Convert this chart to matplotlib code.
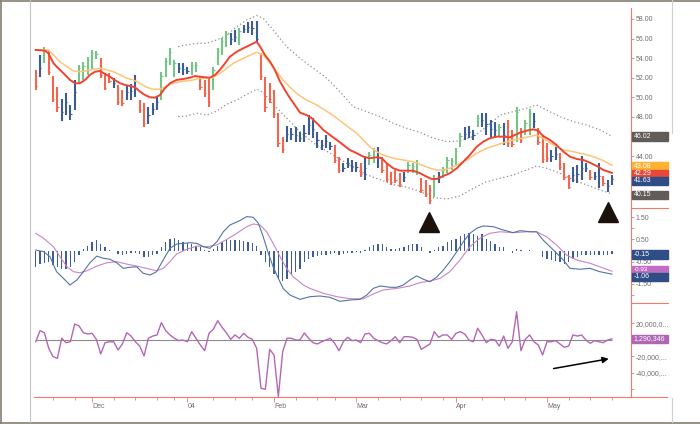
"""
Kurschart mit Gleitenden Durchschnitten, Bändern, MACD und Oszillator.
Werte wurden aus der Vorlage abgelesen (Handelstage Nov 2003 - Mai 2004).
"""

import matplotlib

matplotlib.use("Agg")
import matplotlib.pyplot as plt
from matplotlib.lines import Line2D
from matplotlib.patches import Rectangle

plt.rcParams["font.family"] = ["Liberation Sans", "DejaVu Sans"]

# --- Kursbalken (Index = Handelstag, 0 = 11.11.2003) ---
highs = [52.8, 54.3, 55.1, 54.8, 52.2, 51.1, 49.8, 50.4, 49.2, 51.8,
         53.3, 53.6, 54.1, 54.8, 54.7, 54.0, 52.5, 52.5, 52.0, 51.3,
         50.8, 51.3, 51.4, 52.3, 49.7, 49.4, 49.0, 49.4, 50.0, 52.6,
         54.0, 55.0, 53.8, 53.5, 53.5, 53.1, 53.6, 53.6, 52.1, 51.8,
         52.1, 53.1, 55.0, 56.1, 56.8, 56.6, 56.9, 57.1, 57.4, 57.7,
         57.8, 57.8, 54.5, 52.1, 51.5, 50.8, 48.4, 46.0, 47.1, 46.9,
         47.0, 46.5, 47.2, 48.2, 47.9, 46.5, 45.7, 46.2, 45.4, 45.1,
         43.9, 43.3, 43.8, 43.6, 43.4, 43.3, 43.9, 44.4, 44.8, 44.9,
         43.9, 43.3, 42.4, 42.6, 42.3, 42.4, 43.4, 43.3, 43.6, 41.8,
         41.6, 41.1, 42.1, 42.4, 42.9, 43.9, 43.8, 44.8, 46.4, 47.0,
         47.1, 46.7, 48.2, 48.4, 48.4, 47.7, 47.5, 47.3, 47.4, 47.7,
         46.7, 49.0, 46.9, 47.7, 48.8, 48.4, 46.9, 46.2, 45.3, 44.6,
         44.9, 44.3, 43.3, 42.1, 42.9, 43.1, 44.0, 43.3, 42.6, 42.4,
         43.3, 42.0, 41.6, 42.1]
lows = [50.75, 52.1, 53.5, 52.3, 49.5, 48.5, 47.6, 48.2, 47.7, 48.7,
        51.5, 51.8, 52.3, 52.8, 53.9, 52.0, 50.8, 51.5, 51.0, 49.2,
        49.1, 49.7, 49.7, 50.0, 48.4, 47.0, 47.3, 48.2, 48.7, 49.7,
        52.1, 53.3, 52.1, 52.5, 52.3, 52.4, 52.3, 52.6, 50.8, 50.0,
        49.0, 50.8, 53.3, 54.3, 55.1, 55.3, 55.6, 55.3, 56.6, 56.6,
        56.4, 55.7, 51.8, 48.5, 49.4, 47.9, 44.9, 44.3, 45.4, 45.6,
        45.4, 45.4, 45.4, 46.2, 45.9, 44.8, 44.6, 44.8, 44.6, 43.3,
        42.3, 42.4, 42.8, 42.4, 42.4, 41.9, 41.6, 43.1, 43.3, 42.8,
        42.3, 41.4, 41.1, 41.3, 40.9, 41.4, 42.3, 42.3, 42.1, 40.2,
        39.8, 39.1, 39.8, 41.3, 41.8, 42.3, 42.6, 43.1, 44.9, 45.7,
        45.9, 45.7, 47.0, 47.0, 46.2, 46.0, 45.9, 46.0, 45.1, 44.9,
        44.9, 45.4, 45.3, 46.2, 46.2, 46.9, 45.1, 43.3, 43.4, 43.4,
        43.6, 42.6, 41.6, 40.6, 41.4, 41.3, 41.6, 42.4, 41.6, 41.6,
        40.8, 41.0, 40.3, 41.1]
closes = [51.2, 53.0, 54.8, 52.6, 49.8, 49.0, 48.5, 49.5, 48.3, 50.5,
          53.0, 53.2, 53.8, 54.5, 54.4, 52.3, 51.0, 51.7, 51.5, 49.5,
          49.4, 50.5, 50.6, 51.0, 48.7, 47.4, 48.2, 48.8, 49.5, 52.2,
          53.7, 54.6, 53.5, 53.0, 52.9, 52.7, 53.3, 53.3, 51.1, 50.4,
          49.5, 52.8, 54.7, 55.8, 56.5, 56.0, 56.2, 56.8, 57.0, 57.2,
          57.1, 56.0, 52.2, 49.0, 49.8, 48.3, 45.3, 44.7, 46.3, 46.3,
          46.2, 45.9, 46.4, 47.2, 46.8, 45.6, 45.1, 45.5, 45.0, 43.6,
          42.6, 42.8, 43.3, 43.0, 42.9, 42.2, 42.8, 44.1, 44.5, 43.8,
          42.6, 41.7, 41.4, 41.6, 41.2, 41.9, 43.1, 43.0, 43.3, 40.5,
          40.1, 39.5, 41.8, 41.8, 42.6, 43.6, 43.5, 44.5, 46.1, 46.3,
          46.5, 46.2, 47.9, 47.7, 47.3, 46.8, 46.7, 47.0, 46.2, 45.3,
          45.2, 48.5, 45.6, 47.4, 48.4, 47.6, 45.4, 43.7, 43.8, 44.0,
          44.2, 42.9, 41.9, 40.9, 42.1, 42.2, 42.8, 42.8, 41.9, 42.0,
          42.0, 41.3, 41.0, 41.63]
# g = steigend, r = fallend, b = sonstige
bar_kind = ("rbgrrrbbbb" "gggggrrrbr" "rbbbrrbbbg" "gggbbbggrr" "rggggbbgbb"
            "bbrrrrrrbb" "bbbbbbbbbr" "rbbbbrbggb" "rrrrrbgggr" "rrgbgggggb"
            "bbgbbbbgbr" "rgrggbrrrb" "brrrbbbbrb" "brbb")

fast_idx = [0, 2.1, 2.9, 4.1, 5.2, 6.4, 7.9, 9.1, 10.2, 11.4, 12.5, 13.7, 14.8, 16, 17.1,
            18.2, 19.5, 20.6, 21.8, 22.9, 24.1, 25.2, 26.4, 27.5, 28.7, 29.8, 31, 32.5,
            34.1, 35.6, 36.8, 37.9, 39.1, 40.2, 41.4, 42.5, 43.7, 44.8, 46.4, 47.9, 49.5,
            51, 51.8, 52.9, 54.1, 55.2, 56.4, 57.5, 58.7, 59.8, 61, 62.5, 63.7, 64.9,
            66.4, 67.9, 69.5, 71, 72.5, 74.1, 75.6, 77.1, 78.7, 79.9, 81, 82.5, 84.1,
            85.6, 87.1, 88.7, 90.2, 91.4, 92.5, 93.7, 95.6, 97.2, 98.7, 100.2, 101.8,
            103.3, 104.8, 106.4, 107.9, 109.5, 110.6, 111.8, 113.3, 114.8, 116, 117.1,
            118.7, 120.2, 121.8, 123.3, 124.9, 126.4, 127.9, 129.5, 131, 132.6, 133]
fast_val = [54.84, 54.77, 54.5, 53.48, 52.97, 52.46, 51.78, 51.44, 51.44, 51.78, 52.29,
            52.62, 52.69, 52.39, 52.11, 51.78, 51.44, 51.27, 51.16, 51.03, 50.58, 50.24,
            50.01, 49.97, 50.24, 50.93, 51.44, 51.78, 51.88, 52.01, 52.18, 52.11, 52.05,
            52.01, 52.29, 52.8, 53.48, 54.15, 54.66, 55.01, 55.35, 55.68, 55.17, 54.33,
            53.64, 52.8, 51.6, 50.76, 49.91, 49.22, 48.44, 48.2, 47.87, 47.36, 46.67,
            46.16, 45.65, 45.14, 44.63, 44.3, 43.95, 43.79, 43.89, 43.79, 43.28, 42.77,
            42.52, 42.52, 42.52, 42.26, 41.91, 41.67, 41.67, 41.91, 42.26, 42.77, 43.44,
            44.12, 44.97, 45.48, 45.83, 45.99, 45.99, 45.93, 46.16, 46.4, 46.6, 46.74,
            46.6, 46.06, 45.65, 45.14, 44.46, 43.95, 43.71, 43.61, 43.34, 43.0, 42.59,
            42.36, 42.29]

slow_idx = [0, 2.9, 4.1, 5.6, 7.2, 8.7, 10.2, 11.8, 13.3, 14.8, 16.4, 17.9, 19.5, 21,
            22.5, 24.1, 25.6, 27.1, 28.7, 30.2, 31.8, 33.3, 34.8, 36.4, 37.9, 39.5, 41,
            42.5, 44.1, 45.6, 47.1, 48.7, 51, 52.5, 54.1, 55.6, 57.1, 58.7, 60.2, 61.8,
            63.3, 64.9, 66.4, 67.9, 69.5, 71, 72.5, 74.1, 75.6, 77.1, 78.7, 80.2, 82.5,
            84.8, 87.1, 89.1, 91, 92.5, 94.1, 95.6, 97.2, 99.5, 101.8, 104.1, 106.4,
            108.7, 111, 113.3, 115.6, 117.1, 119.5, 121.8, 124.1, 126.4, 128.7, 131, 133]
slow_val = [54.84, 54.84, 54.33, 53.64, 53.13, 52.69, 52.62, 52.72, 52.87, 52.97, 52.8,
            52.62, 52.29, 51.95, 51.78, 51.44, 51.03, 50.83, 50.83, 51.16, 51.44, 51.6,
            51.67, 51.78, 51.95, 51.95, 52.05, 52.46, 52.97, 53.48, 53.82, 54.15, 54.6,
            54.33, 53.48, 52.62, 51.78, 51.03, 50.42, 49.91, 49.56, 49.22, 48.79, 48.38,
            47.87, 47.36, 46.85, 46.34, 45.65, 44.97, 44.46, 44.12, 43.79, 43.61, 43.44,
            43.1, 42.77, 42.59, 42.59, 42.77, 43.1, 43.61, 44.3, 44.81, 45.14, 45.48,
            45.72, 45.93, 46.16, 45.83, 45.14, 44.63, 44.46, 44.22, 43.95, 43.54, 43.08]

band_idx = [32.9, 34.8, 37.2, 39.5, 41.8, 44.1, 46.4, 48.7, 51, 52.5, 54.8, 57.9, 61,
            64.1, 67.2, 70.2, 73.3, 76.4, 79.5, 82.5, 85.6, 88.7, 91.8, 94.9, 97.9, 101,
            104.1, 107.2, 110.2, 113.3, 115.6, 117.9, 121, 124.1, 127.2, 130.3, 133]
upper_val = [55.17, 55.35, 55.52, 55.52, 55.86, 56.37, 57.2, 57.9, 58.35, 58.07, 56.88,
             55.17, 53.99, 52.97, 51.95, 50.58, 49.05, 48.54, 48.03, 47.36, 46.85, 46.42,
             45.83, 45.48, 45.55, 46.01, 47.01, 48.2, 48.54, 48.89, 49.22, 48.71, 48.03,
             47.52, 47.18, 46.67, 46.02]
lower_val = [48.03, 48.1, 48.38, 48.2, 48.6, 49.3, 49.73, 50.3, 50.83, 50.5, 49.3, 47.9,
             46.5, 45.35, 44.5, 43.7, 42.85, 42.1, 41.6, 41.1, 40.85, 40.4, 39.75, 39.63,
             39.94, 40.72, 41.4, 41.74, 42.08, 42.59, 43.0, 42.77, 42.26, 41.57, 41.06,
             40.55, 40.15]

# --- MACD ---
macd_idx = [0, 1.8, 3.3, 4.8, 6.4, 7.9, 9.5, 11, 12.5, 14.1, 15.6, 17.1, 18.7, 20.2, 21.8,
            23.3, 24.8, 26.4, 27.9, 29.4, 31, 32.5, 34.1, 35.6, 37.2, 38.7, 40.2, 41.8,
            43.3, 44.8, 47.1, 48.7, 50.2, 51.4, 52.5, 53.7, 54.8, 56, 57.1, 58.7, 61,
            63.3, 65.6, 67.9, 70.2, 72.5, 74.8, 76.4, 77.9, 79.5, 81.8, 83.3, 84.8, 86.4,
            87.9, 89.5, 91, 92.5, 94.1, 95.6, 97.2, 98.7, 100.2, 101.8, 103.3, 105.6,
            107.9, 110.2, 111.8, 114.1, 115.6, 117.1, 119.5, 121.8, 123.3, 125.6, 127.9,
            130.2, 133]
macd_val = [0.02, -0.05, -0.28, -0.95, -1.25, -1.55, -1.32, -0.95, -0.55, -0.25, -0.35,
            -0.39, -0.55, -0.80, -0.75, -0.73, -1.02, -1.10, -0.95, -0.43, 0.10, 0.29,
            0.32, 0.35, 0.32, 0.17, 0.10, 0.39, 0.84, 1.14, 1.34, 1.52, 1.49, 1.22, 0.62,
            -0.13, -0.73, -1.25, -1.70, -2.00, -2.19, -2.07, -2.04, -2.10, -2.28, -2.22,
            -2.19, -2.00, -1.70, -1.59, -1.65, -1.65, -1.55, -1.32, -1.14, -1.29, -1.40,
            -1.20, -0.87, -0.50, -0.05, 0.39, 0.77, 1.00, 1.10, 1.07, 0.92, 0.80, 0.89,
            0.84, 0.84, 0.47, 0.02, -0.43, -0.80, -0.84, -0.80, -0.95, -1.06]
signal_idx = [0, 1.8, 4.1, 5.6, 7.2, 8.7, 10.2, 11.8, 14.1, 16.4, 18.7, 21, 23.3, 25.6,
              27.9, 29.4, 31, 32.5, 34.8, 37.2, 39.5, 41.8, 44.1, 46.4, 48.7, 50.2, 51.8,
              53.3, 54.8, 56.4, 57.9, 59.4, 61.8, 63.3, 66.4, 69.5, 72.5, 75.6, 77.9, 80.2,
              83.3, 86.4, 88.7, 91, 93.3, 95.6, 97.9, 100.2, 102.5, 104.8, 107.2, 110.2,
              113.3, 115.6, 117.9, 120.2, 122.5, 124.9, 127.9, 130.2, 133]
signal_val = [0.77, 0.55, 0.17, -0.28, -0.73, -0.95, -1.00, -0.91, -0.70, -0.55, -0.50,
              -0.61, -0.70, -0.80, -0.91, -0.80, -0.50, -0.16, 0.05, 0.20, 0.17, 0.25,
              0.50, 0.77, 1.07, 1.19, 1.14, 0.84, 0.32, -0.28, -0.80, -1.17, -1.55, -1.70,
              -1.92, -2.07, -2.16, -2.17, -1.95, -1.77, -1.70, -1.59, -1.44, -1.37, -1.25,
              -0.95, -0.43, 0.17, 0.55, 0.77, 0.84, 0.80, 0.84, 0.84, 0.62, 0.25, -0.20,
              -0.43, -0.57, -0.73, -0.93]
macd_hist = [-0.75, -0.60, -0.57, -0.52, -0.67, -0.75, -0.82, -0.82, -0.75, -0.52,
             -0.22, 0.08, 0.22, 0.37, 0.45, 0.30, 0.15, 0.04, -0.04, -0.15,
             -0.22, -0.15, -0.12, -0.10, -0.15, -0.27, -0.30, -0.22, -0.15, 0.15,
             0.37, 0.52, 0.57, 0.45, 0.37, 0.33, 0.30, 0.22, 0.15, 0.02,
             -0.08, 0.08, 0.22, 0.37, 0.45, 0.48, 0.48, 0.45, 0.42, 0.37,
             0.33, 0.18, -0.22, -0.52, -0.75, -1.04, -1.27, -1.35, -1.27, -1.12,
             -0.97, -0.82, -0.50, -0.38, -0.28, -0.25, -0.22, -0.20, -0.15, -0.12,
             -0.19, -0.17, -0.10, -0.09, -0.07, -0.09, 0.02, 0.15, 0.26, 0.30,
             0.27, 0.15, 0.08, 0.08, 0.10, 0.15, 0.26, 0.30, 0.30, 0.15,
             0.00, -0.10, 0.02, 0.15, 0.22, 0.37, 0.45, 0.52, 0.63, 0.75,
             0.78, 0.75, 0.67, 0.75, 0.52, 0.42, 0.30, 0.15, 0.15, -0.04,
             -0.12, 0.08, 0.02, -0.02, 0.02, -0.02, -0.04, -0.30, -0.37, -0.42,
             -0.48, -0.52, -0.60, -0.52, -0.37, -0.27, -0.22, -0.22, -0.22, -0.19,
             -0.19, -0.19, -0.19, -0.15]

# --- Oszillator (Mio.) ---
osc_mio = [-2.1, 11.3, 8.8, -10.1, -20.2, -22.2, 2.1, -3.3, -2.1, 19.4,
           17.0, 8.8, 7.3, 8.1, 0.8, -17.0, -3.3, -2.1, -2.1, -12.1,
           -4.8, 8.8, 4.8, -2.1, -7.3, -19.4, 2.1, 4.8, 6.1, 21.0,
           11.3, 6.1, 2.1, -0.8, 0.0, -2.1, 10.1, 2.1, -6.1, -13.0,
           8.1, 13.0, 23.4, 15.4, 8.8, 0.8, 6.1, 2.1, 8.1, 3.3,
           0.8, -10.1, -58.5, -59.8, -11.3, -18.2, -68.7, -14.2, 2.1, 2.1,
           0.0, 0.0, 8.5, 2.1, -3.3, -4.8, -2.1, 0.0, 2.1, -4.0,
           -13.0, -2.1, 3.3, -0.8, 0.0, -3.3, 7.3, 8.1, 2.1, -0.8,
           -3.3, -4.8, -0.8, 4.0, -3.3, 4.0, 4.0, 3.3, 0.8, -11.3,
           -8.1, -4.8, 10.1, 3.3, 6.1, 6.1, 0.8, 8.1, 10.1, 7.3,
           0.0, -2.1, 14.2, 6.1, -3.3, 0.8, 0.0, -7.3, 4.8, -10.1,
           -2.1, 34.3, -13.0, 0.8, 6.1, -2.1, -6.1, -18.2, -2.1, -2.1,
           -0.8, -4.8, -8.8, -7.3, 6.1, 4.8, 6.1, 0.0, -4.0, -0.8,
           -2.1, -3.3, 0.0, 1.29]

# --- Zeitachse ---
month_idx = [13, 35, 55, 74, 97, 118]
month_labels = ["Dec", "04", "Feb", "Mar", "Apr", "May"]
week_idx = [4, 9, 18, 23, 28, 32, 41, 46, 50, 60, 65, 69, 79, 84, 89, 94, 103, 108,
            113, 123, 128, 133]
signal_marks = [90.8, 132]  # Dreiecke unter den Tiefs

# Preisachse: 40, 42 und 46 liegen unter den Wertemarken
price_ticks = [40, 42, 44, 46, 48, 50, 52, 54, 56, 58]
price_labels = ["", "", "44.00", "", "48.00", "50.00", "52.00", "54.00", "56.00", "58.00"]

C_GREEN = "#74c687"
C_RED = "#f2664f"
C_BLUE = "#3b5c94"
AX_RED = "#f27a68"
LBL = "#6e6e6e"
kind_color = {"g": C_GREEN, "r": C_RED, "b": C_BLUE}

W, H = 700, 424
fig = plt.figure(figsize=(W / 100, H / 100), dpi=100)
fig.patch.set_facecolor("white")


def panel(top, bottom):
    return fig.add_axes([34 / W, 1 - bottom / H, (631 - 34) / W, (bottom - top) / H])


ax_p = panel(8, 208)
ax_m = panel(208, 303)
ax_o = panel(303, 397)

for ax in (ax_p, ax_m, ax_o):
    ax.set_xlim(-0.4, 137.4)
    ax.patch.set_alpha(0)
    for s in ("left", "top", "bottom"):
        ax.spines[s].set_visible(False)
    ax.spines["right"].set_color(AX_RED)
    ax.spines["right"].set_linewidth(0.8)
    ax.yaxis.tick_right()
    ax.tick_params(axis="y", which="both", direction="out", length=2.5, width=0.6,
                   color=AX_RED, labelsize=5, labelcolor=LBL, pad=1)
    ax.set_xticks([])

# Kurs
idx = list(range(len(highs)))
bar_cols = [kind_color[k] for k in bar_kind]
ax_p.vlines(idx, lows, highs, colors=bar_cols, lw=1.5, zorder=2)
ax_p.hlines(closes, [i for i in idx], [i + 0.3 for i in idx], colors=bar_cols, lw=0.8, zorder=2)
ax_p.plot(band_idx, upper_val, color="#8e8e8e", lw=0.9, ls=(0, (1, 2)), zorder=1)
ax_p.plot(band_idx, lower_val, color="#8e8e8e", lw=0.9, ls=(0, (1, 2)), zorder=1)
ax_p.plot(slow_idx, slow_val, color="#ffc477", lw=1.1, zorder=3)
ax_p.plot(fast_idx, fast_val, color="#f0442f", lw=1.4, zorder=4)
ax_p.set_ylim(38.71, 59.12)
ax_p.set_yticks(price_ticks)
ax_p.set_yticklabels(price_labels)

# MACD
ax_m.bar(idx, macd_hist, width=0.34, color="#3d5e95", zorder=2)
ax_m.plot(signal_idx, signal_val, color="#c985c9", lw=0.8, zorder=3)
ax_m.plot(macd_idx, macd_val, color="#5373a8", lw=0.8, zorder=4)
ax_m.set_ylim(-2.354, 1.906)
ax_m.set_yticks([1.5, 0.5, -0.5, -1.5])
ax_m.set_yticklabels(["1.50", "0.50", "-0.50", "-1.50"])
ax_m.set_yticks([1.0, 0.0, -1.0, -2.0], minor=True)
ax_m.plot(signal_marks, [1.30, 1.74], ls="none", marker="^", ms=14.5,
          color="#1c120b", clip_on=False, zorder=10)

# Oszillator
ax_o.hlines(0, 0, 133, color="#8c8c8c", lw=0.8, zorder=1)
ax_o.plot(idx, osc_mio, color="#b467b4", lw=1.0, zorder=2)
ax_o.set_ylim(-69.1, 44.85)
ax_o.set_yticks([20, 0, -20, -40, -60])
ax_o.set_yticklabels(["20,000,0...", "", "-20,000,...", "-40,000,...", ""])
ax_o.annotate("", xy=(132.9, -22.2), xytext=(118.9, -35.2),
              arrowprops=dict(arrowstyle="-|>", color="black", lw=1.1, mutation_scale=9))
ax_o.spines["bottom"].set_visible(True)
ax_o.spines["bottom"].set_color(AX_RED)
ax_o.spines["bottom"].set_linewidth(0.8)
ax_o.set_xticks(month_idx)
ax_o.set_xticklabels(month_labels)
ax_o.set_xticks(week_idx, minor=True)
ax_o.tick_params(axis="x", which="major", direction="out", length=3.5, width=0.6,
                 color=AX_RED, labelsize=5, labelcolor=LBL, pad=0.5)
ax_o.tick_params(axis="x", which="minor", direction="out", length=2, width=0.6, color=AX_RED)
for lbl in ax_o.get_xticklabels():
    lbl.set_horizontalalignment("left")


# Rahmen und Trennlinien
def fig_line(x0, y0, x1, y1, color, lw):
    fig.add_artist(Line2D([x0 / W, x1 / W], [1 - y0 / H, 1 - y1 / H], color=color, lw=lw))


fig_line(0, 0.5, W, 0.5, "#8f887c", 1.3)
fig_line(0.5, 0, 0.5, H, "#8f887c", 1.3)
fig_line(0, 422.5, W, 422.5, "#8f887c", 1.3)
fig_line(29.5, 0, 29.5, 422, "#c4c4c4", 0.8)
fig_line(672, 0, 672, 133, "#d0d0d0", 0.8)
fig_line(672, 398, 672, 422, "#d0d0d0", 0.8)
fig_line(631, 208, 668, 208, AX_RED, 0.8)
fig_line(631, 303, 668, 303, AX_RED, 0.8)
fig_line(631, 397, 667, 397, AX_RED, 0.8)


# Wertemarken an der rechten Achse
def value_box(ax, value, text, color, shift=0.0, size=5):
    y_px = ax.transData.transform((0, value))[1] - shift
    fig.add_artist(Rectangle((632 / W, (y_px - 4.2) / H), 36 / W, 8.4 / H,
                             transform=fig.transFigure, color=color, zorder=5))
    fig.text(633.5 / W, y_px / H, text, color="white", fontsize=size, ha="left",
             va="center", zorder=6)


value_box(ax_p, 46.02, "46.02", "#625c58")
value_box(ax_p, 43.08, "43.08", "#ffb232", 1)
value_box(ax_p, 42.29, "42.29", "#e8483a", 1)
value_box(ax_p, 41.63, "41.63", "#2f4e85", 1.5)
value_box(ax_p, 40.15, "40.15", "#625c58", 1)
value_box(ax_m, -0.15, "-0.15", "#2f4e85", 0.7)
value_box(ax_m, -0.93, "-0.93", "#c06ec4", -1.4, size=4.5)
value_box(ax_m, -1.06, "-1.06", "#2f4e85", 2.7)
value_box(ax_o, 1.29, "1,290,346", "#b065b5")

fig.savefig("out.png", dpi=100)
